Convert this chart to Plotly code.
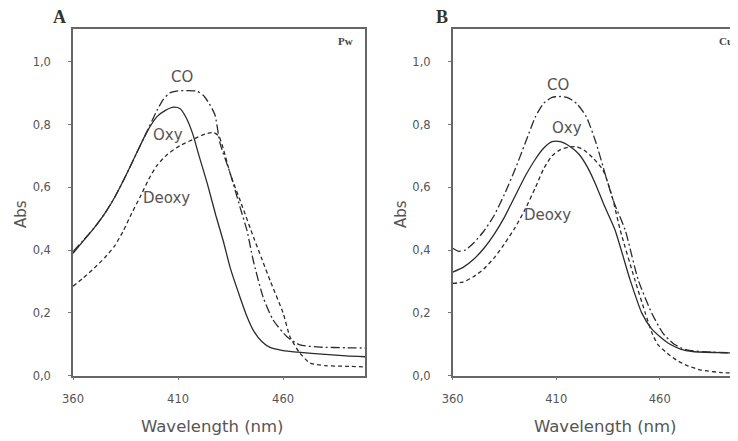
import plotly.graph_objects as go

# ---------------- Panel A (Pw) ----------------
a_co_wl  = [360, 365, 370, 375, 380, 385, 390, 395, 400, 403, 406, 410, 415, 419, 422, 425, 427.6, 430, 434.8, 439.5, 442.9, 445.7, 450.5, 455.2, 462, 468, 477.6, 490, 500]
a_co_abs = [0.395, 0.432, 0.47, 0.515, 0.57, 0.635, 0.705, 0.774, 0.845, 0.88, 0.90, 0.907, 0.908, 0.906, 0.893, 0.865, 0.83, 0.74, 0.645, 0.537, 0.46, 0.37, 0.25, 0.178, 0.123, 0.098, 0.091, 0.089, 0.088]

a_oxy_wl  = [360, 365, 370, 375, 380, 385, 390, 395, 400, 404, 408, 411, 414, 417, 420, 424, 428, 431.4, 435, 439.5, 443, 445.7, 450, 453.8, 460, 467, 480, 490, 500]
a_oxy_abs = [0.39, 0.43, 0.47, 0.515, 0.57, 0.635, 0.705, 0.774, 0.825, 0.845, 0.855, 0.85, 0.82, 0.77, 0.70, 0.61, 0.51, 0.432, 0.34, 0.25, 0.185, 0.146, 0.108, 0.09, 0.08, 0.075, 0.068, 0.063, 0.06]

a_deoxy_wl  = [360, 365, 370, 375, 380, 384, 388, 392, 396, 400, 405, 411, 417, 423, 427, 429.5, 435, 440, 446, 450, 454, 460, 463.3, 468, 472.9, 480, 490, 500]
a_deoxy_abs = [0.285, 0.312, 0.342, 0.375, 0.415, 0.462, 0.518, 0.57, 0.625, 0.67, 0.705, 0.733, 0.752, 0.77, 0.774, 0.762, 0.64, 0.55, 0.44, 0.37, 0.30, 0.2, 0.124, 0.072, 0.04, 0.032, 0.03, 0.028]

# ---------------- Panel B (Cu) ----------------
b_co_wl  = [360, 363, 366, 370, 375, 380, 385, 390, 395, 400, 404, 408, 412, 416, 420, 424.5, 429.3, 434, 438, 443.3, 449.6, 456.1, 461.6, 467, 473, 485, 498]
b_co_abs = [0.406, 0.396, 0.40, 0.422, 0.46, 0.51, 0.578, 0.655, 0.74, 0.825, 0.868, 0.886, 0.889, 0.884, 0.866, 0.825, 0.74, 0.634, 0.55, 0.464, 0.305, 0.2, 0.135, 0.1, 0.082, 0.075, 0.072]

b_oxy_wl  = [360, 365, 370, 375, 380, 385, 390, 395, 400, 404, 408, 412, 417, 421, 425, 429, 433, 438.4, 445.7, 451.3, 456, 460, 465, 470, 476, 490, 498]
b_oxy_abs = [0.33, 0.345, 0.37, 0.405, 0.45, 0.505, 0.57, 0.635, 0.69, 0.725, 0.745, 0.745, 0.728, 0.705, 0.665, 0.61, 0.545, 0.464, 0.305, 0.2, 0.15, 0.125, 0.1, 0.085, 0.077, 0.073, 0.072]

b_deoxy_wl  = [360, 365, 370, 375, 380, 385, 390, 395, 400, 404, 408, 412, 416, 420, 423.5, 427.8, 432.6, 437, 440.9, 448, 453, 456, 459, 463, 468, 474, 480, 490, 498]
b_deoxy_abs = [0.294, 0.298, 0.315, 0.34, 0.375, 0.42, 0.47, 0.53, 0.60, 0.66, 0.70, 0.72, 0.728, 0.729, 0.718, 0.693, 0.655, 0.57, 0.464, 0.305, 0.2, 0.14, 0.10, 0.075, 0.05, 0.03, 0.018, 0.01, 0.008]

x_ticks = [360, 410, 460]
y_ticks = [0.0, 0.2, 0.4, 0.6, 0.8, 1.0]
y_ticktext = ["0,0", "0,2", "0,4", "0,6", "0,8", "1,0"]

LINE = "#2b2b2b"
GRAY = "#555555"
FONT = "DejaVu Sans"

fig = go.Figure()

def add(x, y, dash, xa, ya):
    fig.add_trace(go.Scatter(x=x, y=y, mode="lines", xaxis=xa, yaxis=ya,
                             line=dict(color=LINE, width=1.3, dash=dash, shape="spline", smoothing=0.6),
                             showlegend=False, hoverinfo="skip"))

CO_DASH = "9px,3px,2px,3px"
DE_DASH = "4px,3px"

add(a_co_wl, a_co_abs, CO_DASH, "x", "y")
add(a_oxy_wl, a_oxy_abs, "solid", "x", "y")
add(a_deoxy_wl, a_deoxy_abs, DE_DASH, "x", "y")
add(b_co_wl, b_co_abs, CO_DASH, "x2", "y2")
add(b_oxy_wl, b_oxy_abs, "solid", "x2", "y2")
add(b_deoxy_wl, b_deoxy_abs, DE_DASH, "x2", "y2")

W, H = 738, 441
OFF = 8  # page body margin

def X(px):
    return (px - OFF) / W

def Y(py):
    return 1 - (py - OFF) / H

ydom = [Y(375.7), Y(29)]

axis_common = dict(showgrid=False, zeroline=False, showline=True, linecolor="#666666", linewidth=1.5,
                   ticks="outside", ticklen=3, tickwidth=1, tickcolor="#777777", automargin=False,
                   tickfont=dict(family=FONT, size=11.5, color="#555555"))

fig.update_layout(
    width=W, height=H, margin=dict(l=0, r=0, t=0, b=0, pad=0),
    paper_bgcolor="white", plot_bgcolor="white",
    xaxis=dict(domain=[X(73), X(365)], range=[360, 499], tickvals=x_ticks, mirror=True,
               ticklabelstandoff=9, anchor="y", **axis_common),
    yaxis=dict(domain=ydom, range=[0, 1.104], tickvals=y_ticks, ticktext=y_ticktext, mirror=True,
               ticklabelstandoff=15, anchor="x", **axis_common),
    xaxis2=dict(domain=[X(452.7), X(738)], range=[360, 497.8], tickvals=x_ticks, mirror=True,
                ticklabelstandoff=9, anchor="y2", **axis_common),
    yaxis2=dict(domain=ydom, range=[0, 1.104], tickvals=y_ticks, ticktext=y_ticktext, mirror=False,
                ticklabelstandoff=15, anchor="x2", **axis_common),
)

ann = []
def label(text, x, y, xref, yref, size=15, **kw):
    ann.append(dict(text=text, x=x, y=y, xref=xref, yref=yref, showarrow=False,
                    xanchor="center", yanchor="middle",
                    font=dict(family=FONT, size=size, color=GRAY), **kw))

label("CO", 411.9, 0.951, "x", "y")
label("Oxy", 405.2, 0.767, "x", "y")
label("Deoxy", 404.3, 0.566, "x", "y")
label("CO", 410.9, 0.926, "x2", "y2")
label("Oxy", 415.2, 0.788, "x2", "y2")
label("Deoxy", 406, 0.512, "x2", "y2")

# axis titles
label("Wavelength (nm)", X(212), Y(426), "paper", "paper", size=16.5)
label("Wavelength (nm)", X(605), Y(426), "paper", "paper", size=16.5)
label("Abs", X(21), Y(214), "paper", "paper", size=15, textangle=-90)
label("Abs", X(401), Y(214), "paper", "paper", size=15, textangle=-90)

# panel letters and tags
for t, x in [("A", 59), ("B", 442)]:
    ann.append(dict(text="<b>" + t + "</b>", x=X(x), y=Y(17), xref="paper", yref="paper",
                    xanchor="center", yanchor="middle", showarrow=False,
                    font=dict(family="Liberation Serif", size=18, color="#333333")))
for t, x in [("Pw", 345), ("Cu", 726)]:
    ann.append(dict(text="<b>" + t + "</b>", x=X(x), y=Y(41), xref="paper", yref="paper",
                    xanchor="center", yanchor="middle", showarrow=False,
                    font=dict(family="Liberation Serif", size=11, color="#444444")))

fig.update_layout(annotations=ann)
fig.write_html("out.html")
